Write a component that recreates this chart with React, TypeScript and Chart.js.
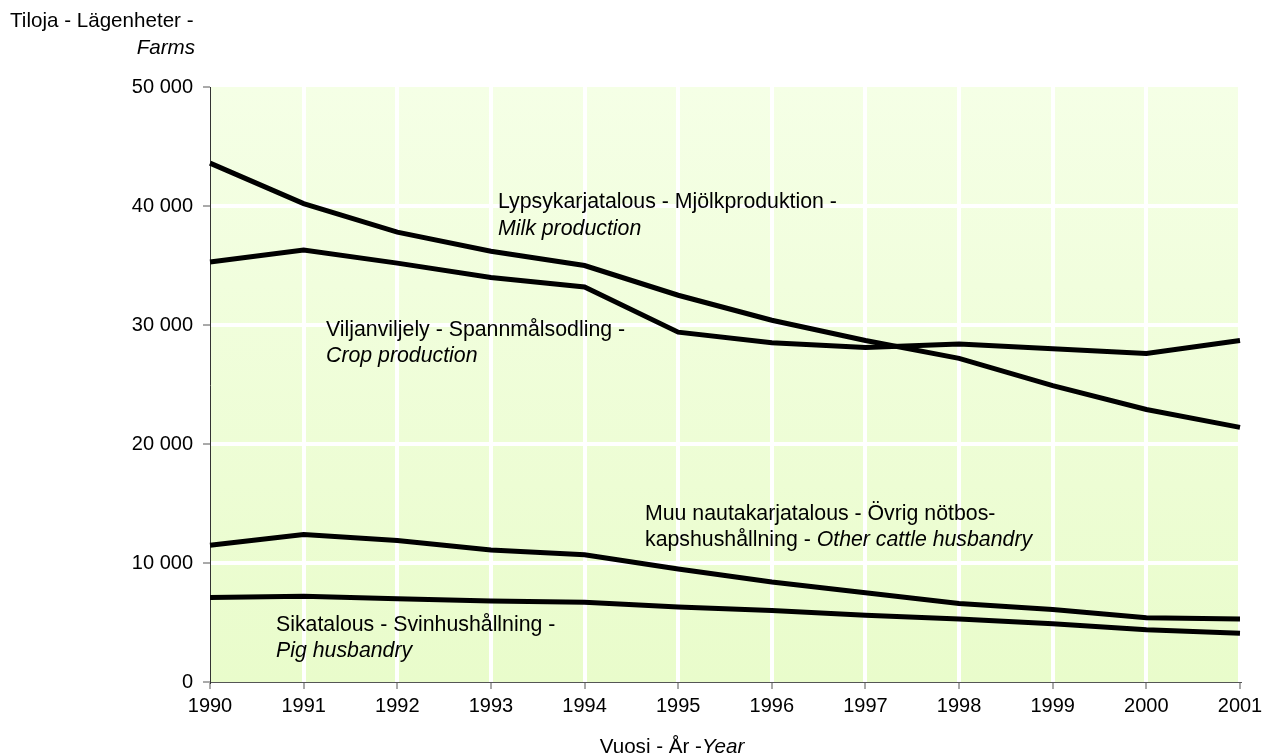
import React, { useEffect, useRef } from "react";
import { Chart, registerables } from "chart.js";

Chart.register(...registerables);

const years = ["1990", "1991", "1992", "1993", "1994", "1995", "1996", "1997", "1998", "1999", "2000", "2001"];
const milk = [43600, 40200, 37800, 36200, 35000, 32500, 30400, 28700, 27200, 24900, 22900, 21400];
const crop = [35300, 36300, 35200, 34000, 33200, 29400, 28500, 28100, 28400, 28000, 27600, 28700];
const cattle = [11500, 12400, 11900, 11100, 10700, 9500, 8400, 7500, 6600, 6100, 5400, 5300];
const pig = [7100, 7200, 7000, 6800, 6700, 6300, 6000, 5600, 5300, 4900, 4400, 4100];

const FONT = "'Liberation Sans', Arial, sans-serif";
const FS = 20;

type Seg = { t: string; i?: boolean };

function drawSegs(
  ctx: CanvasRenderingContext2D,
  segs: Seg[],
  x: number,
  y: number,
  align: "left" | "right" | "center" = "left",
  size: number = 21.3
) {
  const widths = segs.map((s) => {
    ctx.font = `${s.i ? "italic " : ""}${size}px ${FONT}`;
    return ctx.measureText(s.t).width;
  });
  const total = widths.reduce((a, b) => a + b, 0);
  let cx = align === "left" ? x : align === "right" ? x - total : x - total / 2;
  ctx.textAlign = "left";
  ctx.textBaseline = "middle";
  ctx.fillStyle = "#000";
  segs.forEach((s, k) => {
    ctx.font = `${s.i ? "italic " : ""}${size}px ${FONT}`;
    ctx.fillText(s.t, cx, y);
    cx += widths[k];
  });
}

const bgPlugin = {
  id: "bgGrad",
  beforeDraw(chart: any) {
    const { ctx, chartArea } = chart;
    const g = ctx.createLinearGradient(0, chartArea.top, 0, chartArea.bottom);
    g.addColorStop(0, "#F5FFE6");
    g.addColorStop(1, "#E9FCCB");
    ctx.save();
    ctx.fillStyle = g;
    ctx.fillRect(chartArea.left, chartArea.top, chartArea.right - chartArea.left, chartArea.bottom - chartArea.top);
    ctx.restore();
  },
};

const textPlugin = {
  id: "texts",
  afterDraw(chart: any) {
    const { ctx, chartArea } = chart;
    const L = chartArea.left;
    const T = chartArea.top;
    ctx.save();
    drawSegs(ctx, [{ t: "Tiloja - Lägenheter -" }], 10, 21, "left", 20.6);
    drawSegs(ctx, [{ t: "Farms", i: true }], 195, 48, "right", 20.6);
    drawSegs(ctx, [{ t: "Lypsykarjatalous - Mjölkproduktion -" }], L + 288, T + 115);
    drawSegs(ctx, [{ t: "Milk production", i: true }], L + 288, T + 142);
    drawSegs(ctx, [{ t: "Viljanviljely - Spannmålsodling -" }], L + 116, T + 243);
    drawSegs(ctx, [{ t: "Crop production", i: true }], L + 116, T + 269);
    drawSegs(ctx, [{ t: "Muu nautakarjatalous - Övrig nötbos-" }], L + 435, T + 427);
    drawSegs(ctx, [{ t: "kapshushållning - " }, { t: "Other cattle husbandry", i: true }], L + 435, T + 453);
    drawSegs(ctx, [{ t: "Sikatalous - Svinhushållning -" }], L + 66, T + 538);
    drawSegs(ctx, [{ t: "Pig husbandry", i: true }], L + 66, T + 564);
    drawSegs(ctx, [{ t: "Vuosi - År -" }, { t: "Year", i: true }], 672, chartArea.bottom + 65, "center", 20.6);
    ctx.restore();
  },
};

function fmt(v: number) {
  return String(v).replace(/\B(?=(\d{3})+(?!\d))/g, " ");
}

export default function App() {
  const ref = useRef<HTMLCanvasElement | null>(null);
  useEffect(() => {
    document.body.style.margin = "0";
    const ds = (label: string, data: number[]) => ({
      label,
      data,
      borderColor: "#000",
      backgroundColor: "#000",
      borderWidth: 5,
      pointRadius: 0,
      tension: 0,
      fill: false,
    });
    const chart = new Chart(ref.current as HTMLCanvasElement, {
      type: "line",
      data: {
        labels: years,
        datasets: [ds("Milk", milk), ds("Crop", crop), ds("Cattle", cattle), ds("Pig", pig)],
      },
      plugins: [bgPlugin, textPlugin],
      options: {
        animation: false,
        responsive: true,
        maintainAspectRatio: false,
        layout: { padding: { top: 87, right: 22, left: 0, bottom: 0 } },
        plugins: { legend: { display: false }, tooltip: { enabled: false } },
        scales: {
          x: {
            type: "category",
            offset: false,
            afterFit(s: any) {
              s.height = 74;
              s.paddingLeft = 0;
              s.paddingRight = 0;
            },
            grid: {
              offset: false,
              color: (c: any) => (c.index === 0 ? "rgba(0,0,0,0)" : "#ffffff"),
              lineWidth: 4,
              tickColor: "#555",
              tickWidth: 1,
              tickLength: 7,
            },
            border: { color: "#555", width: 1 },
            ticks: { color: "#000", font: { family: FONT, size: FS }, padding: 5, maxRotation: 0, autoSkip: false },
          },
          y: {
            min: 0,
            max: 50000,
            afterFit(s: any) {
              s.width = 210;
              s.paddingTop = 0;
              s.paddingBottom = 0;
            },
            grid: {
              color: (c: any) => (c.tick && (c.tick.value === 0 || c.tick.value === 50000) ? "rgba(0,0,0,0)" : "#ffffff"),
              lineWidth: 4,
              tickColor: "#555",
              tickWidth: 1,
              tickLength: 7,
            },
            border: { color: "#333", width: 1 },
            ticks: {
              stepSize: 10000,
              color: "#000",
              font: { family: FONT, size: FS },
              padding: 10,
              callback: (v: any) => fmt(Number(v)),
            },
          },
        },
      },
    });
    return () => chart.destroy();
  }, []);
  return (
    <div style={{ position: "fixed", left: 0, top: 0, width: 1262, height: 756 }}>
      <canvas ref={ref} />
    </div>
  );
}
